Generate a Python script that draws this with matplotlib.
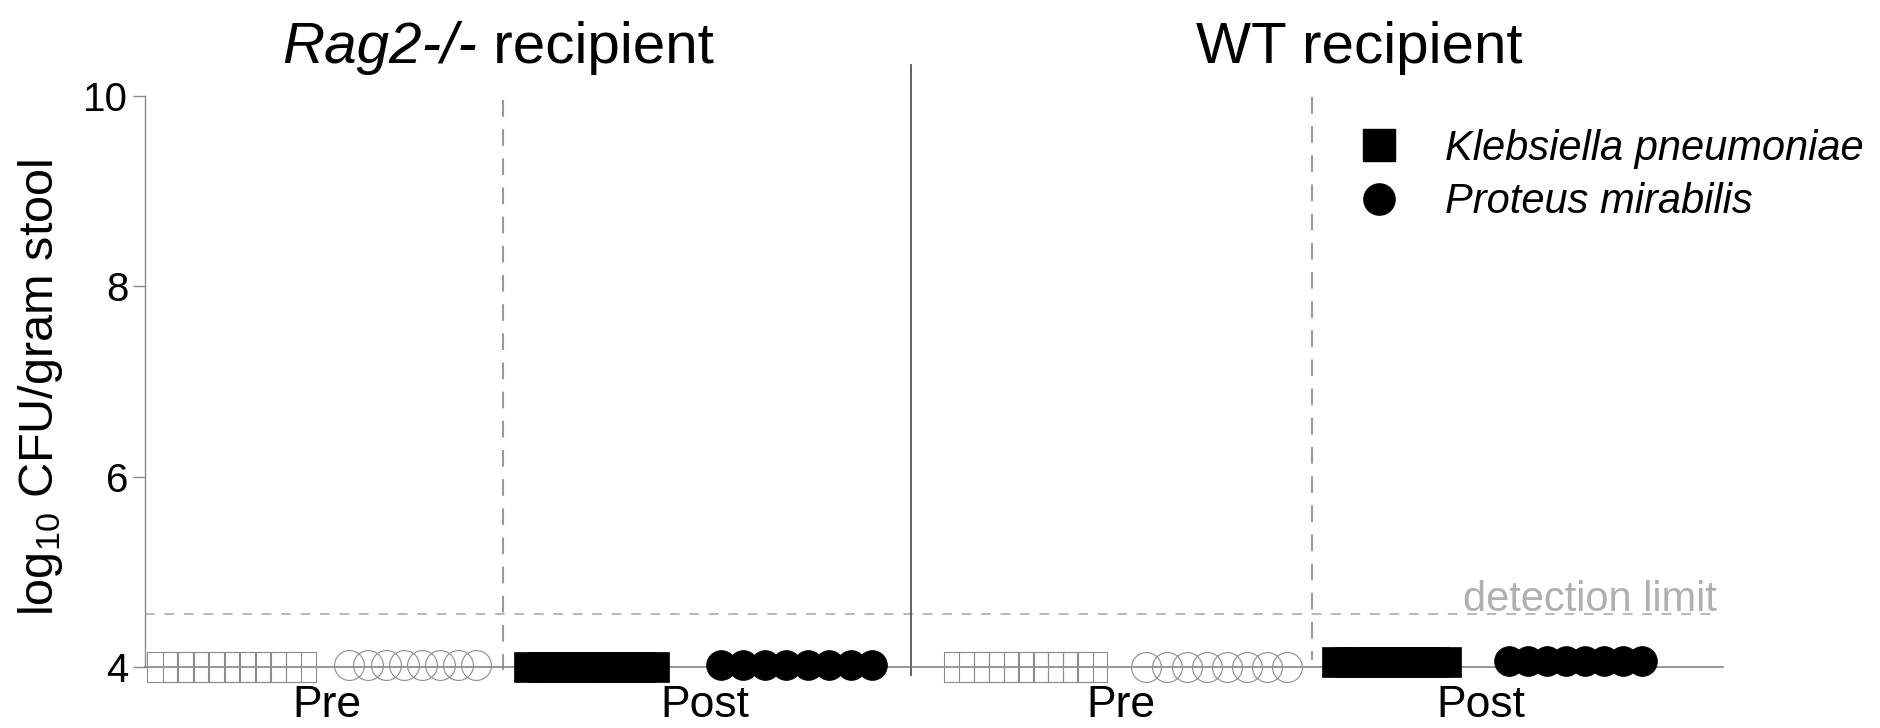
import matplotlib
matplotlib.use("Agg")
import matplotlib.pyplot as plt
from matplotlib.lines import Line2D
import numpy as np

plt.rcParams['font.family'] = ['Liberation Sans', 'DejaVu Sans']
plt.rcParams['mathtext.fontset'] = 'custom'
plt.rcParams['mathtext.rm'] = 'Liberation Sans'
plt.rcParams['mathtext.it'] = 'Liberation Sans:italic'
plt.rcParams['lines.scale_dashes'] = False

# ---------------- data ----------------
recipients = ['Rag2-/-', 'WT']
timepoints = ['Pre', 'Post', 'Pre', 'Post']
species = ['Klebsiella pneumoniae', 'Proteus mirabilis']
# log10 CFU / gram stool, one list per group (Rag2 Pre, Rag2 Post, WT Pre, WT Post)
klebsiella = [
    [4.0, 4.0, 4.0, 4.0, 4.0, 4.0, 4.0, 4.0, 4.0, 4.0],
    [4.0, 4.0, 4.0, 4.0, 4.0, 4.0, 4.0, 4.0, 4.0, 4.0],
    [4.0, 4.0, 4.0, 4.0, 4.0, 4.0, 4.0, 4.0, 4.0, 4.0],
    [4.05, 4.05, 4.05, 4.05, 4.05, 4.05, 4.05, 4.05, 4.05, 4.05],
]
proteus = [
    [4.02, 4.02, 4.02, 4.02, 4.02, 4.02, 4.02, 4.02],
    [4.02, 4.02, 4.02, 4.02, 4.02, 4.02, 4.02, 4.02],
    [4.0, 4.0, 4.0, 4.0, 4.0, 4.0, 4.0, 4.0],
    [4.06, 4.06, 4.06, 4.06, 4.06, 4.06, 4.06, 4.06],
]
detection_limit = 4.56
y_ticks = [4, 6, 8, 10]

# ---------------- layout ----------------
W, H = 1881, 728
X0, X1 = 145, 1723          # axes extent in figure pixels
Y_TOP, Y_BOT = 96, 667      # pixel rows of 10 and 4
group_x = [327, 705, 1121, 1481]
sq_center = [232, 592, 1026, 1392]
sq_span = [139, 125, 133, 109]
ci_center = [413, 797, 1217, 1576]
ci_span = [127, 151, 141, 133]

def yval(py):
    return 4 + (Y_BOT - py) * 6.0 / (Y_BOT - Y_TOP)

fig = plt.figure(figsize=(W / 100, H / 100), dpi=100)
ax = fig.add_axes([X0 / W, 1 - Y_BOT / H, (X1 - X0) / W, (Y_BOT - Y_TOP) / H])
ax.set_xlim(X0, X1)
ax.set_ylim(4, 10)

gray_axis = '#8a8a8a'
ms = 21.5
for i in range(4):
    post = timepoints[i] == 'Post'
    k = np.array(klebsiella[i])
    p = np.array(proteus[i])
    xk = sq_center[i] + np.linspace(-0.5, 0.5, len(k)) * sq_span[i]
    xp = ci_center[i] + np.linspace(-0.5, 0.5, len(p)) * ci_span[i]
    if post:
        kw = dict(markerfacecolor='black', markeredgecolor='black', markeredgewidth=0.5)
    else:
        kw = dict(markerfacecolor='none', markeredgecolor='#8c8c8c', markeredgewidth=0.8)
    ax.plot(xk, k, ls='none', marker='s', markersize=ms, clip_on=False, zorder=3, **kw)
    ax.plot(xp, p, ls='none', marker='o', markersize=ms, clip_on=False, zorder=3, **kw)

# detection limit line and label
ax.plot([X0, 1717], [detection_limit, detection_limit], color='#b8b8b8', lw=1.4,
        dashes=(7, 7), clip_on=False, zorder=1)
ax.text(1717, yval(611), 'detection limit', ha='right', va='baseline',
        fontsize=30, color='#b0b0b0')

# vertical dashed separators (pre/post)
ax.plot([503, 503], [yval(100), yval(670)], color='#999999', lw=1.5,
        dashes=(12, 9), clip_on=False, zorder=1)
ax.plot([1312, 1312], [yval(97), yval(660)], color='#999999', lw=1.5,
        dashes=(12, 9), clip_on=False, zorder=1)
# solid separator between recipients
ax.plot([911, 911], [yval(65), yval(675)], color='#555555', lw=1.3,
        clip_on=False, zorder=1)

# axes styling
for s in ['top', 'right']:
    ax.spines[s].set_visible(False)
ax.spines['left'].set_color(gray_axis)
ax.spines['left'].set_linewidth(1.0)
ax.spines['bottom'].set_color('#7a7a7a')
ax.spines['bottom'].set_linewidth(1.1)
ax.set_yticks(y_ticks)
ax.set_yticklabels([str(t) for t in y_ticks], fontsize=29)
ax.tick_params(axis='y', length=9, width=1.0, color=gray_axis, pad=3)
ax.set_xticks(group_x)
ax.set_xticklabels(timepoints, fontsize=32)
ax.tick_params(axis='x', length=0, pad=13)

# y label
fig.text(41 / W, 1 - 387 / H, r'log$_{10}$ CFU/gram stool', rotation=90,
         ha='center', va='center', fontsize=35)

# titles
t1 = fig.text(282 / W, 1 - 63 / H, 'Rag2-/-', style='italic', fontsize=42,
              ha='left', va='baseline')
ax.annotate(' recipient', xy=(1, 0), xycoords=t1, ha='left', va='bottom',
            fontsize=42, annotation_clip=False)
fig.text(1196 / W, 1 - 63 / H, 'WT recipient', fontsize=42, ha='left', va='baseline')

# legend
handles = [Line2D([], [], ls='none', marker='s', color='black', markersize=22.5),
           Line2D([], [], ls='none', marker='o', color='black', markersize=22.5)]
leg = fig.legend(handles, species, loc='upper left',
                 bbox_to_anchor=(1358 / W, 1 - 129 / H), bbox_transform=fig.transFigure,
                 frameon=False, borderpad=0, borderaxespad=0, handlelength=1.0,
                 handletextpad=1.1, labelspacing=0.32,
                 prop=dict(family='Liberation Sans', style='italic', size=30))

fig.savefig('out.png', dpi=100)
